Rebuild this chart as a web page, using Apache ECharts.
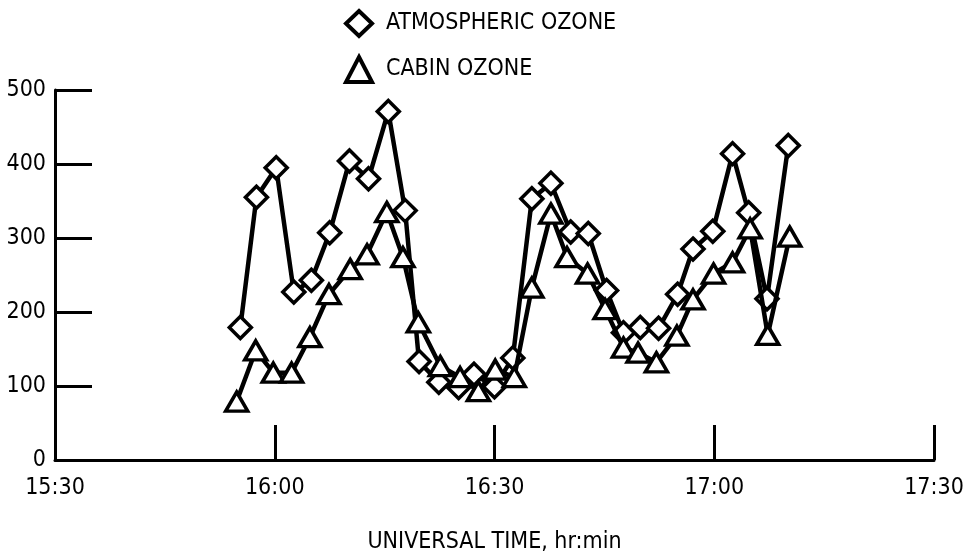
<!DOCTYPE html>
<html>
<head>
<meta charset="utf-8">
<script src="https://cdn.jsdelivr.net/npm/echarts@6/dist/echarts.min.js"></script>
<style>
  html, body { margin: 0; padding: 0; background: #fff; }
  #chart { width: 973px; height: 552px; }
</style>
</head>
<body>
<div id="chart"></div>
<script>
// Times are minutes of the day (15:30 = 930), ozone in the axis units.
const atmosTime = [955.3, 957.5, 960.2, 962.6, 965.0, 967.5, 970.2, 972.8, 975.5, 977.8, 979.7, 982.4, 985.1, 987.2, 990.0, 992.5, 995.1, 997.7, 1000.4, 1002.8, 1005.3, 1007.6, 1009.9, 1012.4, 1015.0, 1017.1, 1019.8, 1022.5, 1024.7, 1027.2, 1030.1];
const atmosValue = [179, 355, 395, 227, 243, 307, 404, 380, 471, 337, 133, 105, 98, 116, 99, 138, 353, 374, 308, 306, 229, 172, 179, 178, 224, 285, 309, 414, 334, 218, 425];

const cabinTime = [954.8, 957.4, 959.8, 962.3, 964.8, 967.4, 970.3, 972.6, 975.3, 977.5, 979.6, 982.6, 985.3, 987.8, 990.1, 992.7, 995.1, 997.7, 999.9, 1002.7, 1005.1, 1007.6, 1009.6, 1012.1, 1014.9, 1017.1, 1019.9, 1022.5, 1024.9, 1027.3, 1030.3];
const cabinValue = [79, 148, 118, 118, 166, 224, 258, 278, 335, 274, 186, 127, 112, 93, 122, 112, 233, 333, 274, 252, 204, 152, 145, 132, 168, 217, 252, 267, 313, 169, 302];

const seriesNames = ['ATMOSPHERIC OZONE', 'CABIN OZONE'];
const xAxisTitle = 'UNIVERSAL TIME, hr:min';

const FONT = '"DejaVu Sans Condensed", "DejaVu Sans", sans-serif';

function textStyle(size) {
  return { fontFamily: FONT, fontSize: size, color: '#000' };
}

function pairs(xs, ys) {
  return xs.map((x, i) => [x, ys[i]]);
}

function hhmm(v) {
  const h = Math.floor(v / 60);
  const m = Math.round(v % 60);
  return h + ':' + (m < 10 ? '0' + m : m);
}

const markerStyle = { color: '#fff', borderColor: '#000', borderWidth: 3.5 };

const chart = echarts.init(document.getElementById('chart'), null, { renderer: 'canvas' });
chart.setOption({
  animation: false,
  backgroundColor: '#fff',
  grid: { left: 55, right: 39, top: 90, bottom: 92, containLabel: false, outerBoundsMode: 'none' },
  legend: {
    orient: 'vertical',
    left: 339,
    top: 4,
    itemWidth: 26,
    itemHeight: 25,
    itemGap: 17,
    itemStyle: { color: '#fff', borderColor: '#000', borderWidth: 4 },
    textStyle: Object.assign(textStyle(23), { padding: [0, 0, 0, 9] }),
    data: [
      { name: seriesNames[0], icon: 'diamond' },
      { name: seriesNames[1], icon: 'triangle' }
    ]
  },
  xAxis: {
    type: 'value',
    min: 930,
    max: 1050,
    interval: 30,
    name: xAxisTitle,
    nameLocation: 'middle',
    nameGap: 71,
    nameTextStyle: textStyle(23),
    axisLine: { show: true, lineStyle: { color: '#000', width: 3 } },
    axisTick: { show: true, inside: true, length: 35, lineStyle: { color: '#000', width: 3 } },
    axisLabel: Object.assign(textStyle(23), { margin: 17, formatter: hhmm }),
    splitLine: { show: false }
  },
  yAxis: {
    type: 'value',
    min: 0,
    max: 500,
    interval: 100,
    axisLine: { show: true, lineStyle: { color: '#000', width: 3 } },
    axisTick: { show: true, inside: true, length: 37, lineStyle: { color: '#000', width: 3 } },
    axisLabel: Object.assign(textStyle(23), { margin: 9 }),
    splitLine: { show: false }
  },
  series: [
    {
      name: seriesNames[0],
      type: 'line',
      data: pairs(atmosTime, atmosValue),
      symbol: 'diamond',
      symbolSize: 22,
      showAllSymbol: true,
      lineStyle: { color: '#000', width: 4.5 },
      itemStyle: markerStyle,
      z: 3
    },
    {
      name: seriesNames[1],
      type: 'line',
      data: pairs(cabinTime, cabinValue),
      symbol: 'triangle',
      symbolSize: [22, 19],
      showAllSymbol: true,
      lineStyle: { color: '#000', width: 4.5 },
      itemStyle: markerStyle,
      z: 4
    }
  ]
});
</script>
</body>
</html>
